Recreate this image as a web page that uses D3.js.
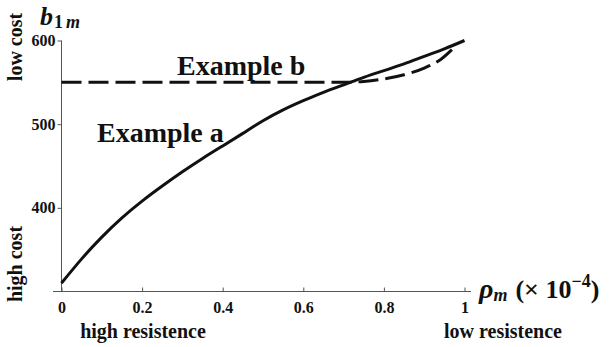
<!DOCTYPE html>
<html>
<head>
<meta charset="utf-8">
<script src="https://cdn.jsdelivr.net/npm/d3@7"></script>
<style>
  body { margin: 0; background: #fff; }
</style>
</head>
<body>
<div class="graph-area"></div>
<script>
// x positions (rho_m, x 10^-4) and b_1m values
var rhoA = [0, 0.05, 0.1, 0.15, 0.2, 0.25, 0.3, 0.35, 0.4, 0.45, 0.5, 0.55, 0.6, 0.65, 0.7, 0.75, 0.8, 0.85, 0.9, 0.95, 1]
var exampleA = [310, 339, 365, 388, 408, 426, 443, 459, 474, 489, 504, 517, 528, 538, 547, 556, 564, 572, 581, 590, 600]
var rhoB = [0, 0.2, 0.4, 0.6, 0.7, 0.75, 0.8, 0.85, 0.9, 0.94, 0.975]
var exampleB = [550, 550, 550, 550, 550, 551, 554, 559, 567, 577, 592]
var xTicks = [0, 0.2, 0.4, 0.6, 0.8, 1]
var yTicks = [400, 500, 600]

var width = 609
var height = 347
var serif = '"Liberation Serif", "Times New Roman", Times, "DejaVu Serif", serif'

var svg = d3.select('.graph-area').append('svg')
  .attr('width', width)
  .attr('height', height)
  .attr('font-family', serif)
  .attr('font-weight', 'bold')

var x = d3.scaleLinear().domain([0, 1]).range([61.5, 464.5])
var y = d3.scaleLinear().domain([300, 600]).range([291.5, 40.5])

var axisColor = '#555'

// x axis line (runs a little past both ends)
svg.append('line')
  .attr('x1', 53).attr('x2', 471)
  .attr('y1', y(300)).attr('y2', y(300))
  .style('stroke', axisColor).style('stroke-width', 1)

// y axis line
svg.append('line')
  .attr('x1', x(0)).attr('x2', x(0))
  .attr('y1', y(300)).attr('y2', y(600))
  .style('stroke', axisColor).style('stroke-width', 1)

var styleTicks = function (g) {
  g.select('.domain').remove()
  g.selectAll('.tick line').style('stroke', axisColor)
  g.selectAll('.tick text')
    .attr('font-family', serif)
    .attr('font-weight', 'bold')
    .attr('font-size', 16)
    .style('fill', '#111')
}

// x ticks point up into the plot
var xAxis = d3.axisTop(x).tickValues(xTicks).tickSize(4)
  .tickFormat(d => (d === 0 || d === 1) ? String(d) : d3.format('.1f')(d))
var gx = svg.append('g')
  .attr('transform', 'translate(0,' + y(300) + ')')
  .call(xAxis)
styleTicks(gx)
gx.selectAll('.tick text').attr('y', 21).attr('dy', 0)

var yAxis = d3.axisLeft(y).tickValues(yTicks).tickSize(4).tickFormat(d3.format('d'))
var gy = svg.append('g')
  .attr('transform', 'translate(' + x(0) + ',0)')
  .call(yAxis)
styleTicks(gy)
gy.selectAll('.tick text').attr('x', -6)

// curves
var lineA = d3.line()
  .x((d, i) => x(rhoA[i]))
  .y(d => y(d))
  .curve(d3.curveNatural)
var lineB = d3.line()
  .x((d, i) => x(rhoB[i]))
  .y(d => y(d))
  .curve(d3.curveMonotoneX)

svg.append('path')
  .attr('d', lineB(exampleB))
  .style('fill', 'none')
  .style('stroke', '#111')
  .style('stroke-width', 3)
  .style('stroke-dasharray', '20,7')

svg.append('path')
  .attr('d', lineA(exampleA))
  .style('fill', 'none')
  .style('stroke', '#111')
  .style('stroke-width', 3)

var txt = function (sel) {
  return sel.attr('font-family', serif).attr('font-weight', 'bold').style('fill', '#111')
}

// curve labels
txt(svg.append('text')).attr('x', 177).attr('y', 75).attr('font-size', 28).text('Example b')
txt(svg.append('text')).attr('x', 97).attr('y', 142).attr('font-size', 28).text('Example a')

// y axis label b_{1m}
var bl = txt(svg.append('text')).attr('x', 40).attr('y', 25)
bl.append('tspan').attr('font-size', 26).attr('font-style', 'italic').text('b')
bl.append('tspan').attr('font-size', 18).attr('dy', 3).attr('dx', 1).text('1')
bl.append('tspan').attr('font-size', 18).attr('font-style', 'italic').attr('dx', 3).text('m')

// x axis label rho_m (x 10^-4)
var xl = txt(svg.append('text')).attr('x', 479).attr('y', 298)
xl.append('tspan').attr('font-size', 28).attr('font-style', 'italic').text('ρ')
xl.append('tspan').attr('font-size', 18).attr('font-style', 'italic').attr('dy', 3).text('m')
xl.append('tspan').attr('font-size', 26).attr('dy', -3).attr('dx', 8).text('(× 10')
xl.append('tspan').attr('font-size', 18).attr('dy', -11).text('−4')
xl.append('tspan').attr('font-size', 26).attr('dy', 11).text(')')

// cost labels along the y axis
txt(svg.append('text'))
  .attr('transform', 'translate(22,47) rotate(-90)')
  .attr('text-anchor', 'middle')
  .attr('font-size', 20)
  .text('low cost')
txt(svg.append('text'))
  .attr('transform', 'translate(22,264) rotate(-90)')
  .attr('text-anchor', 'middle')
  .attr('font-size', 20)
  .text('high cost')

// resistence labels under the x axis
txt(svg.append('text')).attr('x', 143).attr('y', 338).attr('text-anchor', 'middle').attr('font-size', 20).text('high resistence')
txt(svg.append('text')).attr('x', 503).attr('y', 338).attr('text-anchor', 'middle').attr('font-size', 20).text('low resistence')
</script>
</body>
</html>
